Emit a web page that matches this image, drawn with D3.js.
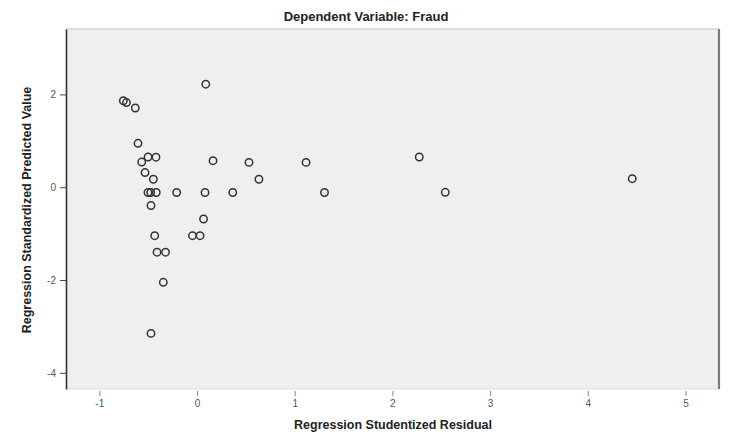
<!DOCTYPE html>
<html>
<head>
<meta charset="utf-8">
<script src="https://cdn.jsdelivr.net/npm/d3@7"></script>
<style>
  body { margin: 0; background: #fff; }
  svg text { font-family: "Liberation Sans", Arial, sans-serif; }
</style>
</head>
<body>
<script>
// residuals (x) and predicted values (y)
const residual = [-0.754, -0.722, -0.632, 0.090, -0.604, -0.501, -0.420, -0.566, 0.164, 0.532,
  1.116, -0.532, -0.447, 0.634, -0.502, -0.474, -0.417, -0.208, 0.082, 0.366,
  1.305, 2.275, 2.541, 4.455, -0.471, 0.067, -0.433, -0.046, 0.031, -0.409,
  -0.322, -0.345, -0.471];
const predicted = [1.864, 1.825, 1.707, 2.220, 0.946, 0.651, 0.647, 0.543, 0.571, 0.535,
  0.535, 0.316, 0.172, 0.172, -0.114, -0.114, -0.114, -0.114, -0.114, -0.114,
  -0.114, 0.651, -0.110, 0.183, -0.394, -0.685, -1.045, -1.045, -1.045, -1.401,
  -1.401, -2.049, -3.151];
const xTicks = [-1, 0, 1, 2, 3, 4, 5];
const yTicks = [2, 0, -2, -4];

const W = 729, H = 434;
const pL = 66, pR = 719, pT = 29, pB = 389;

const svg = d3.select("body").append("svg")
  .attr("width", W).attr("height", H);

const x = d3.scaleLinear().domain([-1.341, 5.343]).range([pL, pR]);
const y = d3.scaleLinear().domain([-4.349, 3.41]).range([pB, pT]);

// plot background
svg.append("rect")
  .attr("x", pL).attr("y", pT)
  .attr("width", pR - pL).attr("height", pB - pT)
  .attr("fill", "#efefef");

// frame: light top/bottom, shaded right, dark left
svg.append("line").attr("x1", pL).attr("x2", pR).attr("y1", pT).attr("y2", pT)
  .attr("stroke", "#d4d4d4").attr("stroke-width", 1.5);
svg.append("line").attr("x1", pL).attr("x2", pR).attr("y1", pB).attr("y2", pB)
  .attr("stroke", "#dcdcdc").attr("stroke-width", 1);
svg.append("line").attr("x1", pR).attr("x2", pR).attr("y1", pT).attr("y2", pB)
  .attr("stroke", "#7a7a7a").attr("stroke-width", 2.2);

const fmt = d => String(d);

// x axis
const xAxis = svg.append("g")
  .attr("transform", `translate(0,${pB + 2})`)
  .call(d3.axisBottom(x).tickValues(xTicks).tickSize(5).tickSizeOuter(0).tickPadding(4).tickFormat(fmt));
xAxis.select(".domain").remove();
xAxis.selectAll("line").attr("stroke", "#888");
xAxis.selectAll("text").attr("fill", "#555").attr("font-size", 10);

// y axis
const yAxis = svg.append("g")
  .attr("transform", `translate(${pL},0)`)
  .call(d3.axisLeft(y).tickValues(yTicks).tickSize(6).tickSizeOuter(0).tickPadding(4).tickFormat(fmt));
yAxis.select(".domain").attr("stroke", "#333").attr("stroke-width", 1.6);
yAxis.selectAll("line").attr("stroke", "#444");
yAxis.selectAll("text").attr("fill", "#555").attr("font-size", 10);

// points
svg.append("g").selectAll("circle")
  .data(residual.map((d, i) => [d, predicted[i]]))
  .join("circle")
  .attr("cx", d => x(d[0]))
  .attr("cy", d => y(d[1]))
  .attr("r", 3.7)
  .attr("fill", "none")
  .attr("stroke", "#333")
  .attr("stroke-width", 1.5);

// titles
svg.append("text")
  .attr("x", 366).attr("y", 21)
  .attr("text-anchor", "middle")
  .attr("font-size", 13).attr("font-weight", "bold").attr("fill", "#222")
  .text("Dependent Variable: Fraud");

svg.append("text")
  .attr("x", 393).attr("y", 429)
  .attr("text-anchor", "middle")
  .attr("font-size", 12.5).attr("font-weight", "bold").attr("fill", "#222")
  .text("Regression Studentized Residual");

svg.append("text")
  .attr("transform", "translate(31,210) rotate(-90)")
  .attr("text-anchor", "middle")
  .attr("font-size", 12.5).attr("font-weight", "bold").attr("fill", "#222")
  .text("Regression Standardized Predicted Value");
</script>
</body>
</html>
